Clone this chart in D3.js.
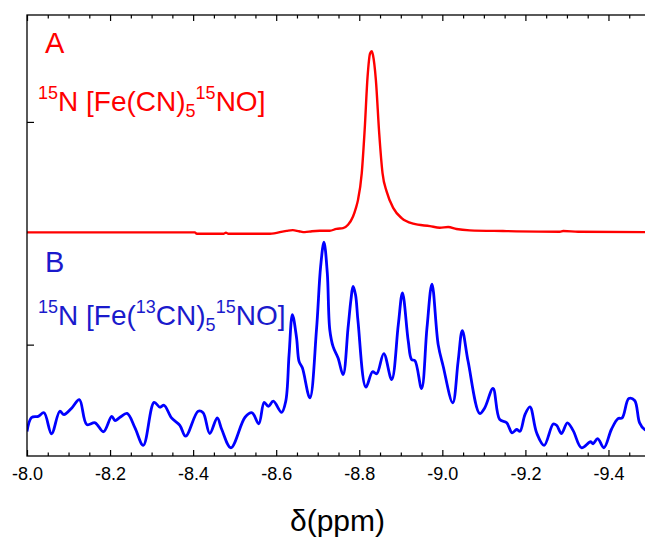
<!DOCTYPE html>
<html>
<head>
<meta charset="utf-8">
<script src="https://cdn.jsdelivr.net/npm/d3@7/dist/d3.min.js"></script>
<style>
  html, body { margin: 0; padding: 0; background: #fff; }
  svg { display: block; }
  text { font-family: "Liberation Sans", Arial, sans-serif; }
</style>
</head>
<body>
<svg id="chart" width="645" height="538"></svg>
<script>
// Chemical shift axis (ppm) and tick labels
const xTicks = [-8.0, -8.2, -8.4, -8.6, -8.8, -9.0, -9.2, -9.4];
const xTickLabels = ["-8.0", "-8.2", "-8.4", "-8.6", "-8.8", "-9.0", "-9.2", "-9.4"];
const xMinorStep = 0.05;
const yTicks = [1, 2];

// Spectrum A: 15N [Fe(CN)5 15NO]
const redPpm = [-8.000, -8.404, -8.409, -8.474, -8.479, -8.484, -8.585, -8.625, -8.640, -8.655,
  -8.669, -8.686, -8.705, -8.729, -8.745, -8.761, -8.773, -8.785, -8.792, -8.797,
  -8.806, -8.813, -8.820, -8.826, -8.830, -8.833, -8.840, -8.848, -8.856, -8.866,
  -8.882, -8.902, -8.930, -8.970, -8.994, -9.014, -9.034, -9.066, -9.146, -9.283,
  -9.291, -9.327, -9.500];
const redInt = [1.504, 1.504, 1.498, 1.498, 1.503, 1.498, 1.498, 1.511, 1.514, 1.509,
  1.505, 1.509, 1.511, 1.511, 1.520, 1.523, 1.538, 1.575, 1.614, 1.650,
  1.770, 1.964, 2.203, 2.308, 2.318, 2.300, 2.188, 1.949, 1.770, 1.687,
  1.613, 1.568, 1.543, 1.532, 1.525, 1.528, 1.519, 1.513, 1.510, 1.507,
  1.510, 1.507, 1.505];

// Spectrum B: 15N [Fe(13CN)5 15NO]
const bluePpm = [-8.000, -8.011, -8.027, -8.041, -8.059, -8.079, -8.089, -8.108, -8.126, -8.144,
  -8.164, -8.184, -8.204, -8.212, -8.224, -8.241, -8.260, -8.280, -8.306, -8.320,
  -8.330, -8.348, -8.368, -8.382, -8.412, -8.424, -8.440, -8.458, -8.469, -8.491,
  -8.525, -8.542, -8.558, -8.571, -8.581, -8.593, -8.613, -8.623, -8.631, -8.639,
  -8.649, -8.655, -8.663, -8.681, -8.697, -8.707, -8.715, -8.723, -8.729, -8.737,
  -8.749, -8.761, -8.773, -8.780, -8.785, -8.791, -8.797, -8.816, -8.832, -8.842,
  -8.859, -8.878, -8.894, -8.904, -8.918, -8.926, -8.934, -8.950, -8.963, -8.975,
  -8.990, -9.002, -9.025, -9.038, -9.048, -9.062, -9.090, -9.102, -9.122, -9.138,
  -9.155, -9.168, -9.179, -9.187, -9.199, -9.211, -9.227, -9.245, -9.267, -9.275,
  -9.287, -9.301, -9.315, -9.335, -9.357, -9.363, -9.374, -9.389, -9.407, -9.423,
  -9.433, -9.449, -9.463, -9.475, -9.487, -9.500];
const blueInt = [0.610, 0.673, 0.678, 0.694, 0.600, 0.701, 0.686, 0.716, 0.753, 0.641,
  0.649, 0.609, 0.678, 0.659, 0.674, 0.691, 0.626, 0.548, 0.741, 0.719,
  0.728, 0.671, 0.638, 0.589, 0.701, 0.694, 0.601, 0.671, 0.619, 0.537,
  0.674, 0.694, 0.644, 0.741, 0.723, 0.746, 0.696, 0.746, 0.955, 1.135,
  1.031, 0.925, 0.896, 0.761, 1.067, 1.351, 1.460, 1.322, 1.067, 0.991,
  0.940, 0.865, 1.075, 1.202, 1.261, 1.224, 1.104, 0.809, 0.878, 0.869,
  0.960, 0.843, 1.090, 1.232, 1.015, 0.933, 0.928, 0.803, 1.075, 1.272,
  1.000, 0.903, 0.739, 0.925, 1.063, 0.925, 0.691, 0.716, 0.803, 0.664,
  0.649, 0.604, 0.619, 0.611, 0.686, 0.721, 0.604, 0.548, 0.644, 0.638,
  0.601, 0.649, 0.614, 0.537, 0.564, 0.555, 0.578, 0.537, 0.619, 0.668,
  0.671, 0.758, 0.749, 0.649, 0.619, 0.610];

const svg = d3.select("#chart");
const plot = { left: 27, right: 650, top: 15, bottom: 456 };

const x = d3.scaleLinear().domain([-8.0, -9.5]).range([plot.left, plot.right]);
const y = d3.scaleLinear().domain([0.5, 2.48]).range([plot.bottom, plot.top]);

svg.append("defs").append("clipPath").attr("id", "plot-clip")
  .append("rect")
  .attr("x", plot.left).attr("y", plot.top)
  .attr("width", plot.right - plot.left).attr("height", plot.bottom - plot.top);

// Spectra
const red = redPpm.map((p, i) => [p, redInt[i]]);
const blue = bluePpm.map((p, i) => [p, blueInt[i]]);

const g = svg.append("g").attr("clip-path", "url(#plot-clip)");
g.append("path")
  .datum(red)
  .attr("fill", "none")
  .attr("stroke", "#ff0000")
  .attr("stroke-width", 2.4)
  .attr("stroke-linejoin", "round")
  .attr("d", d3.line().x(d => x(d[0])).y(d => y(d[1])).curve(d3.curveMonotoneX));

g.append("path")
  .datum(blue)
  .attr("fill", "none")
  .attr("stroke", "#0000ff")
  .attr("stroke-width", 2.8)
  .attr("stroke-linejoin", "round")
  .attr("d", d3.line().x(d => x(d[0])).y(d => y(d[1])).curve(d3.curveCatmullRom.alpha(0.5)));

// Axes with inward ticks
const minorTicks = d3.range(0, 31).map(i => +(-8.0 - i * xMinorStep).toFixed(2))
  .filter(v => !xTicks.some(t => Math.abs(t - v) < 1e-6));

function styleAxis(sel) {
  sel.select(".domain").remove();
  sel.selectAll(".tick line").attr("stroke", "#000").attr("stroke-width", 1.2);
}

svg.append("g").attr("transform", `translate(0,${plot.bottom})`)
  .call(d3.axisBottom(x).tickValues(minorTicks).tickSize(-3.5).tickFormat(""))
  .call(styleAxis);
const bottomAxis = svg.append("g").attr("transform", `translate(0,${plot.bottom})`)
  .call(d3.axisBottom(x).tickValues(xTicks).tickSize(-6)
    .tickFormat((d, i) => xTickLabels[i]))
  .call(styleAxis);
bottomAxis.selectAll(".tick text")
  .attr("y", 24).attr("dy", 0)
  .attr("fill", "#000")
  .style("font-size", "18px")
  .style("font-family", "'Liberation Sans', Arial, sans-serif");

svg.append("g").attr("transform", `translate(0,${plot.top})`)
  .call(d3.axisTop(x).tickValues(minorTicks).tickSize(-3.5).tickFormat(""))
  .call(styleAxis);
svg.append("g").attr("transform", `translate(0,${plot.top})`)
  .call(d3.axisTop(x).tickValues(xTicks).tickSize(-6).tickFormat(""))
  .call(styleAxis);

svg.append("g").attr("transform", `translate(${plot.left},0)`)
  .call(d3.axisLeft(y).tickValues(yTicks).tickSize(-7).tickFormat(""))
  .call(styleAxis);

// Frame
svg.append("rect")
  .attr("x", plot.left).attr("y", plot.top)
  .attr("width", plot.right - plot.left).attr("height", plot.bottom - plot.top)
  .attr("fill", "none").attr("stroke", "#000").attr("stroke-width", 1.3);

// Axis title
svg.append("text")
  .attr("x", (plot.left + plot.right) / 2 - 1).attr("y", 531)
  .attr("text-anchor", "middle")
  .style("font-size", "30px")
  .attr("fill", "#000")
  .text("δ(ppm)");

// Panel labels
function formula(xPos, yPos, color, parts) {
  const t = svg.append("text").attr("x", xPos).attr("y", yPos)
    .attr("fill", color).style("font-size", "28px");
  let shift = 0;
  parts.forEach(([txt, kind]) => {
    const target = kind === "sup" ? -12 : kind === "sub" ? 6 : 0;
    t.append("tspan")
      .attr("dy", target - shift)
      .style("font-size", kind ? "18px" : "28px")
      .text(txt);
    shift = target;
  });
}

svg.append("text").attr("x", 45).attr("y", 53)
  .attr("fill", "#ff0000").style("font-size", "29px").text("A");
formula(38, 111, "#ff0000", [["15", "sup"], ["N [Fe(CN)", null], ["5", "sub"], ["15", "sup"], ["NO]", null]]);

svg.append("text").attr("x", 45).attr("y", 272)
  .attr("fill", "#1a1acc").style("font-size", "29px").text("B");
formula(38, 325, "#1a1acc", [["15", "sup"], ["N [Fe(", null], ["13", "sup"], ["CN)", null], ["5", "sub"], ["15", "sup"], ["NO]", null]]);
</script>
</body>
</html>
